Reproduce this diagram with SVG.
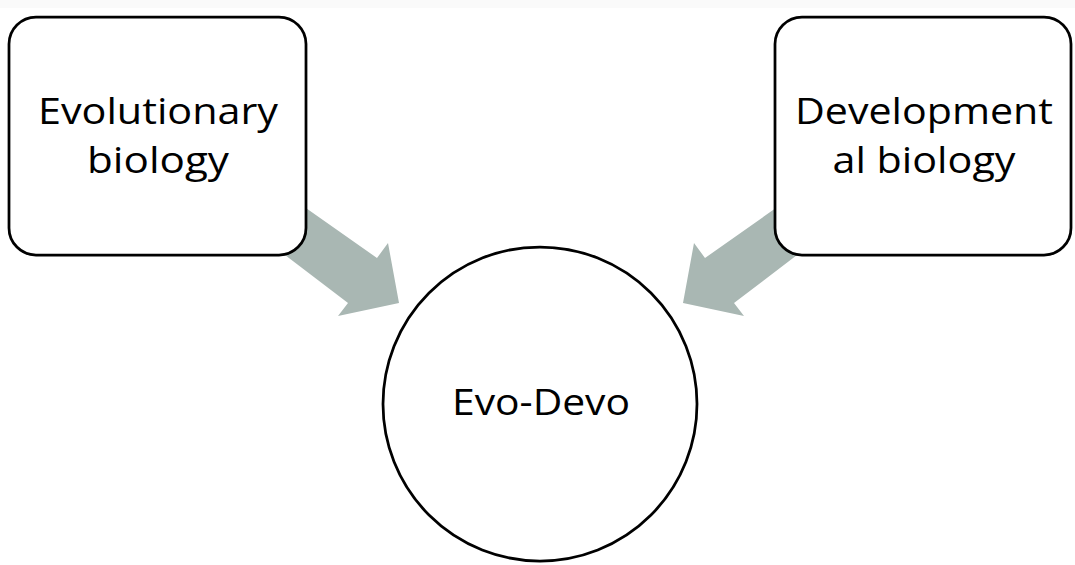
<svg xmlns="http://www.w3.org/2000/svg" width="1075" height="565" viewBox="0 0 1075 565">
  <style>
    .box { fill: #ffffff; stroke: #000000; stroke-width: 2.75; }
    .arrow { fill: #A9B7B3; stroke: none; }
    .label { font-family: "Open Sans", "Liberation Sans", sans-serif; font-size: 36.5px; fill: #000000; text-anchor: middle; }
  </style>
  <rect x="0" y="0" width="1075" height="565" fill="#ffffff"/>
  <rect x="0" y="0" width="1075" height="8" fill="#FAFAFA"/>
  <g id="connectors">
    <polygon class="arrow" points="235,158 377,258 388,243 399,303 338,316 348,303 222,207"/>
    <polygon class="arrow" points="847,158 705,258 694,243 683,303 744,316 734,303 860,207"/>
  </g>
  <g id="node-evolutionary">
    <rect class="box" x="9" y="17" width="297" height="238" rx="27" ry="27"/>
    <text class="label" x="158" y="124" textLength="240" lengthAdjust="spacingAndGlyphs">Evolutionary</text>
    <text class="label" x="158" y="173" textLength="142" lengthAdjust="spacingAndGlyphs">biology</text>
  </g>
  <g id="node-developmental">
    <rect class="box" x="775" y="17" width="296" height="238" rx="27" ry="27"/>
    <text class="label" x="924" y="124" textLength="258" lengthAdjust="spacingAndGlyphs">Development</text>
    <text class="label" x="924" y="173" textLength="183" lengthAdjust="spacingAndGlyphs">al biology</text>
  </g>
  <g id="node-evodevo">
    <circle class="box" cx="540" cy="404" r="157"/>
    <text class="label" x="541" y="415" textLength="178" lengthAdjust="spacingAndGlyphs">Evo-Devo</text>
  </g>
</svg>
